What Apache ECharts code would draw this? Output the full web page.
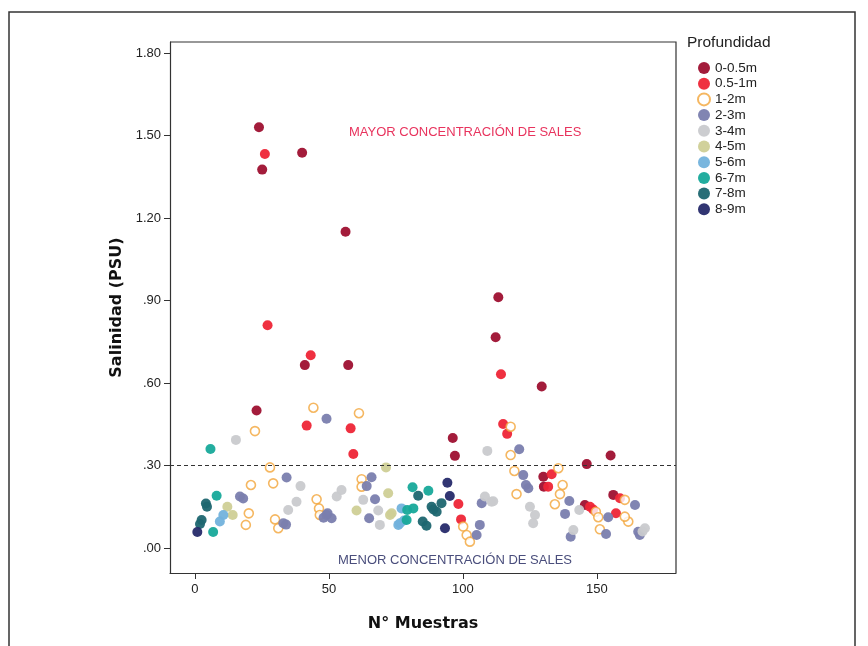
<!DOCTYPE html>
<html>
<head>
<meta charset="utf-8">
<script src="https://cdn.jsdelivr.net/npm/echarts@6/dist/echarts.min.js"></script>
<style>
  html, body { margin: 0; padding: 0; background: #fff; }
  #chart { width: 868px; height: 646px; }
</style>
</head>
<body>
<div id="chart"></div>
<script>
// Depth classes (legend order)
const depthNames = ['0-0.5m', '0.5-1m', '1-2m', '2-3m', '3-4m', '4-5m', '5-6m', '6-7m', '7-8m', '8-9m'];

// [sample number, salinity PSU] per depth class
const d0_05 = [[23.9,1.53],[25.1,1.376],[40.0,1.437],[56.2,1.15],[41.0,0.665],[57.2,0.665],[23.0,0.50],
  [113.2,0.912],[112.2,0.766],[129.4,0.587],[96.2,0.40],[97.0,0.335],[130.0,0.259],[130.2,0.223],
  [146.2,0.305],[155.1,0.336],[145.5,0.156],[156.1,0.193]];
const d05_1 = [[26.1,1.433],[27.1,0.81],[43.2,0.701],[41.7,0.445],[58.1,0.435],[59.1,0.342],[114.2,0.632],
  [115.0,0.451],[116.5,0.415],[98.3,0.16],[99.3,0.104],[133.1,0.268],[131.8,0.223],[147.4,0.15],
  [148.6,0.14],[158.6,0.181],[157.1,0.126]];
const d1_2 = [[44.2,0.51],[22.4,0.425],[61.2,0.49],[28.0,0.293],[20.9,0.229],[29.2,0.235],[20.1,0.126],
  [19.0,0.084],[29.9,0.104],[31.1,0.072],[45.4,0.177],[46.3,0.144],[46.6,0.12],[62.2,0.25],[62.2,0.223],
  [100.1,0.078],[101.4,0.047],[102.6,0.023],[117.8,0.441],[117.8,0.338],[119.2,0.28],[120.0,0.196],
  [135.6,0.29],[137.2,0.229],[136.2,0.196],[134.3,0.159],[149.6,0.132],[150.5,0.112],[160.4,0.175],
  [161.7,0.096],[160.4,0.114],[151.1,0.068]];
const d2_3 = [[49.1,0.47],[34.2,0.256],[16.8,0.187],[18.0,0.18],[33.0,0.09],[34.0,0.085],[49.1,0.12],
  [51.0,0.108],[48.0,0.11],[49.5,0.126],[65.9,0.257],[64.1,0.225],[67.2,0.177],[65.0,0.108],[121.0,0.359],
  [122.5,0.265],[123.5,0.229],[124.4,0.217],[107.0,0.163],[106.3,0.084],[105.1,0.047],[139.7,0.171],
  [138.1,0.124],[140.2,0.041],[154.2,0.112],[153.4,0.051],[164.2,0.156],[166.0,0.047],[165.4,0.059]];
const d3_4 = [[15.3,0.393],[39.4,0.225],[37.9,0.168],[34.8,0.138],[52.9,0.187],[54.7,0.211],[62.8,0.175],
  [68.4,0.136],[69.0,0.084],[109.1,0.353],[108.2,0.187],[110.7,0.168],[111.3,0.17],[125.0,0.15],
  [126.9,0.12],[126.2,0.09],[143.4,0.138],[141.2,0.065],[167.9,0.072],[167.0,0.06]];
const d4_5 = [[12.1,0.15],[14.1,0.12],[71.3,0.293],[72.1,0.199],[73.4,0.126],[72.8,0.12],[60.3,0.136]];
const d5_6 = [[10.6,0.12],[9.3,0.096],[77.1,0.144],[75.9,0.084],[76.5,0.09],[78.0,0.1]];
const d6_7 = [[5.8,0.36],[8.1,0.19],[6.8,0.058],[81.2,0.221],[87.1,0.208],[79.2,0.138],[79.0,0.102],[81.5,0.144]];
const d7_8 = [[4.1,0.162],[4.5,0.15],[2.5,0.102],[1.9,0.087],[83.3,0.19],[88.3,0.15],[90.2,0.132],
  [92.0,0.163],[85.0,0.096],[86.4,0.081],[89.0,0.14]];
const d8_9 = [[0.9,0.058],[94.2,0.237],[95.1,0.189],[93.3,0.072]];

const depthData = [d0_05, d05_1, d1_2, d2_3, d3_4, d4_5, d5_6, d6_7, d7_8, d8_9];
const depthColors = ['#9e1030', '#ee2536', '#ffffff', '#7a7eae', '#c9cacd', '#cfcf96', '#72b2dc', '#17a99a', '#1e6670', '#262a6a'];

const yTicks = [0, 0.3, 0.6, 0.9, 1.2, 1.5, 1.8];
const xTicks = [0, 50, 100, 150];
const threshold = 0.3;

const font = 'Arial, "Liberation Sans", sans-serif';
const titleFont = '"DejaVu Sans", Verdana, sans-serif';

// Format salinity label like ".30" / "1.20"
function formatSal(v) {
    const s = v.toFixed(2);
    return s.startsWith('0') ? s.slice(1) : s;
}

const series = depthNames.map((name, i) => {
    const s = {
        name: name,
        type: 'scatter',
        symbol: 'circle',
        symbolSize: 10,
        data: depthData[i],
        itemStyle: { color: depthColors[i], opacity: 0.95 }
    };
    if (name === '1-2m') {
        s.symbolSize = 9;
        s.itemStyle = { color: '#ffffff', borderColor: '#f2a53a', borderWidth: 1.6 };
    }
    return s;
});

// Dashed reference line at 0.30
series[0].markLine = {
    silent: true,
    symbol: 'none',
    label: { show: false },
    lineStyle: { color: '#333', type: [4, 3], width: 1.2 },
    data: [{ yAxis: threshold }]
};

const chart = echarts.init(document.getElementById('chart'));
chart.setOption({
    animation: false,
    backgroundColor: '#fff',
    textStyle: { fontFamily: font },
    grid: { left: 170, top: 42, right: 192, bottom: 73 },
    xAxis: {
        type: 'value',
        min: -9.3,
        max: 179.5,
        name: 'N° Muestras',
        nameLocation: 'middle',
        nameGap: 43,
        nameTextStyle: { fontSize: 16, fontWeight: 'bold', color: '#111', fontFamily: titleFont },
        axisLine: { show: true, onZero: false, lineStyle: { color: '#333', width: 1.2 } },
        axisTick: { show: true, length: 6, customValues: xTicks, lineStyle: { color: '#333' } },
        axisLabel: { customValues: xTicks, fontSize: 13, color: '#222', margin: 10 },
        splitLine: { show: false }
    },
    yAxis: {
        type: 'value',
        min: -0.091,
        max: 1.84,
        name: 'Salinidad (PSU)',
        nameLocation: 'middle',
        nameGap: 36,
        nameTextStyle: { fontSize: 16, fontWeight: 'bold', color: '#111', fontFamily: titleFont },
        axisLine: { show: true, onZero: false, lineStyle: { color: '#333', width: 1.2 } },
        axisTick: { show: true, length: 6, customValues: yTicks, lineStyle: { color: '#333' } },
        axisLabel: { customValues: yTicks, fontSize: 13, color: '#222', margin: 9, formatter: formatSal },
        splitLine: { show: false }
    },
    legend: {
        orient: 'vertical',
        left: 692,
        top: 56,
        itemWidth: 12,
        itemHeight: 12,
        itemGap: 1.7,
        icon: 'circle',
        textStyle: { fontSize: 13.5, lineHeight: 12, color: '#222' },
        data: depthNames
    },
    graphic: [
        // outer frame
        { type: 'rect', shape: { x: 9, y: 12, width: 846, height: 700 },
          style: { fill: 'none', stroke: '#333', lineWidth: 1.5 }, silent: true },
        // plot box top/right
        { type: 'polyline', shape: { points: [[170, 42], [676, 42], [676, 573]] },
          style: { stroke: '#333', lineWidth: 1.2, fill: 'none' }, silent: true },
        { type: 'text', left: 687, top: 35,
          style: { text: 'Profundidad', fontSize: 15.5, fill: '#222', fontFamily: font } },
        { type: 'text', left: 349, top: 126,
          style: { text: 'MAYOR CONCENTRACIÓN DE SALES', fontSize: 13, fill: '#e8335d', fontFamily: font } },
        { type: 'text', left: 338, top: 554,
          style: { text: 'MENOR CONCENTRACIÓN DE SALES', fontSize: 13, fill: '#4a4e7c', fontFamily: font } }
    ],
    series: series
});
</script>
</body>
</html>
